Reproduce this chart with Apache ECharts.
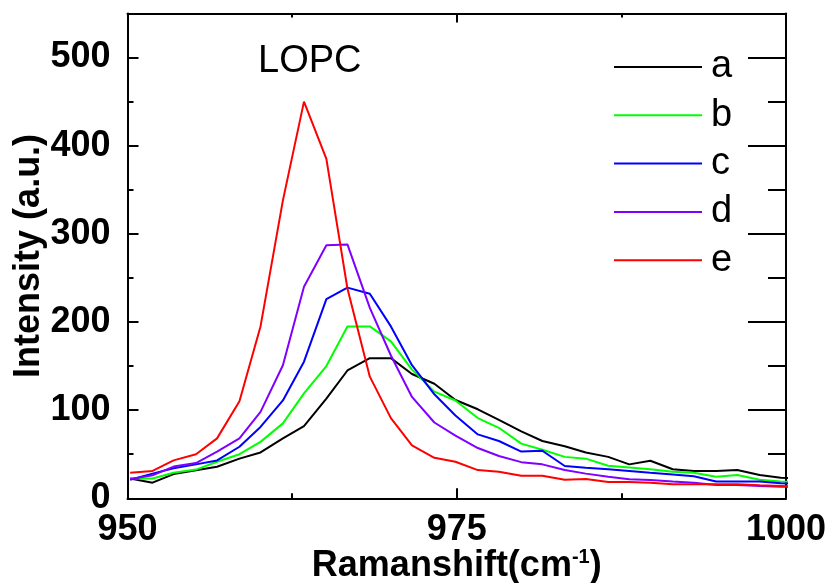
<!DOCTYPE html>
<html>
<head>
<meta charset="utf-8">
<script src="https://cdn.jsdelivr.net/npm/echarts@6/dist/echarts.min.js"></script>
<style>html,body{margin:0;padding:0;background:#fff;}#c{width:830px;height:583px;}</style>
</head>
<body>
<div id="c"></div>
<script>
const ramanShift = [950.2, 951.9, 953.5, 955.2, 956.8, 958.5, 960.1, 961.8, 963.4, 965.1, 966.7, 968.4, 970.0, 971.6, 973.3, 974.9, 976.6, 978.2, 979.9, 981.5, 983.2, 984.8, 986.5, 988.1, 989.7, 991.4, 993.0, 994.7, 996.3, 998.0, 999.6, 1001.3];
const seriesA = [22.5, 17.7, 27.5, 31.7, 35.8, 45, 52, 68, 82, 113, 145, 159, 159, 141, 130, 111.5, 101, 89, 76, 65, 59, 52, 47, 38.5, 42.6, 33, 31, 31, 32, 26.4, 23.4, 22];
const seriesB = [22.5, 22.5, 29, 32.6, 41.5, 50, 64, 85, 119, 150, 195, 195, 178, 146, 121, 111, 91, 80, 62, 55, 47, 45, 37, 35, 33, 30, 29, 24.5, 26.4, 21, 19, 18];
const seriesC = [21, 28, 34, 38.5, 43, 58.5, 81, 111, 155, 226, 239, 232, 195, 151, 118, 94, 72.5, 65, 53, 54, 36.6, 34.7, 33, 31, 29, 27, 25, 19, 19, 19, 17, 16];
const seriesD = [22, 26, 36, 40, 53, 68, 98, 151, 240, 287, 288, 216, 162, 115, 86, 71, 57, 48, 41, 38.5, 32, 28, 24.5, 21.5, 20.7, 19, 17.7, 15, 15, 14, 13, 13];
const seriesE = [29, 31, 43, 50, 68, 110, 195, 338, 450, 385, 238, 138, 91, 60, 46, 41.5, 32, 30, 25.6, 25.6, 21, 22, 18.5, 18.5, 17.7, 16, 16, 16, 16, 14.7, 14, 13];
const seriesNames = ['a', 'b', 'c', 'd', 'e'];
const seriesColors = ['#000000', '#00ff00', '#0000ff', '#8000ff', '#ff0000'];
const xTicks = [950, 975, 1000];
const yTicks = [0, 100, 200, 300, 400, 500];
const annotation = 'LOPC';

const FONT = 'Liberation Sans, Arial, sans-serif';
const allSeries = [seriesA, seriesB, seriesC, seriesD, seriesE];

const chart = echarts.init(document.getElementById('c'), null, {renderer: 'canvas'});

function yAx(pos, interval, len, labels, lineShow) {
  return {
    type: 'value', position: pos, min: 0, max: 550, interval: interval,
    axisLine: {show: lineShow, onZero: false, lineStyle: {color: '#000', width: 2}},
    axisTick: {show: true, inside: true, length: len, lineStyle: {color: '#000', width: 2}},
    axisLabel: labels ? {show: true, fontSize: 36, fontWeight: 'bold', color: '#000', fontFamily: FONT, margin: 17, showMaxLabel: false,
      formatter: v => yTicks.indexOf(v) >= 0 ? String(v) : ''} : {show: false},
    splitLine: {show: false}
  };
}

chart.setOption({
  animation: false,
  backgroundColor: '#fff',
  title: {
    text: annotation, left: 258, top: 43, padding: 0,
    textStyle: {fontSize: 38, fontWeight: 'normal', color: '#000', fontFamily: FONT}
  },
  legend: {
    data: seriesNames, orient: 'vertical', left: 614, top: 48, padding: 0,
    icon: 'rect', itemWidth: 88, itemHeight: 2, itemGap: 10.3,
    textStyle: {fontSize: 38, color: '#000', fontFamily: FONT, lineHeight: 38, padding: [0, 0, 0, 4]}
  },
  grid: {left: 127.5, right: 44, top: 13.5, bottom: 84.7, containLabel: false, outerBoundsMode: 'none'},
  xAxis: [
    {
      type: 'value', position: 'bottom', min: 950, max: 1000, interval: 25,
      axisLine: {show: true, onZero: false, lineStyle: {color: '#000', width: 2}},
      axisTick: {show: true, inside: true, length: 10, lineStyle: {color: '#000', width: 2}},
      minorTick: {show: true, splitNumber: 2, length: 5, lineStyle: {color: '#000', width: 2}},
      axisLabel: {fontSize: 36, fontWeight: 'bold', color: '#000', fontFamily: FONT, margin: 14,
        formatter: v => xTicks.indexOf(v) >= 0 ? String(v) : ''},
      splitLine: {show: false}, minorSplitLine: {show: false},
      name: 'Ramanshift(cm{sup|-1})', nameLocation: 'middle', nameGap: 50, nameMoveOverlap: false,
      nameTextStyle: {fontSize: 36, fontWeight: 'bold', color: '#000', fontFamily: FONT, lineHeight: 36,
        rich: {sup: {fontSize: 20, fontWeight: 'bold', color: '#000', fontFamily: FONT, verticalAlign: 'bottom', lineHeight: 20, padding: [0, 0, 17, 0]}}}
    },
    {
      type: 'value', position: 'top', min: 950, max: 1000, interval: 25,
      axisLine: {show: true, onZero: false, lineStyle: {color: '#000', width: 2}},
      axisTick: {show: true, inside: true, length: 9, lineStyle: {color: '#000', width: 2}},
      minorTick: {show: true, splitNumber: 2, length: 4, lineStyle: {color: '#000', width: 2}},
      axisLabel: {show: false}, splitLine: {show: false}, minorSplitLine: {show: false}
    }
  ],
  yAxis: [
    Object.assign(yAx('left', 100, 11, true, true), {
      name: 'Intensity (a.u.)', nameLocation: 'middle', nameGap: 80, nameRotate: 90, nameMoveOverlap: false,
      nameTextStyle: {fontSize: 36, fontWeight: 'bold', color: '#000', fontFamily: FONT}
    }),
    yAx('left', 50, 6, false, false),
    yAx('right', 100, 38, false, true),
    yAx('right', 50, 18, false, false)
  ],
  series: seriesNames.map((n, k) => ({
    name: n, type: 'line', xAxisIndex: 0, yAxisIndex: 0,
    data: ramanShift.map((x, i) => [x, allSeries[k][i]]),
    symbol: 'none', showSymbol: false, clip: true,
    lineStyle: {color: seriesColors[k], width: 2},
    itemStyle: {color: seriesColors[k]},
    z: 2 + k
  }))
});
</script>
</body>
</html>
